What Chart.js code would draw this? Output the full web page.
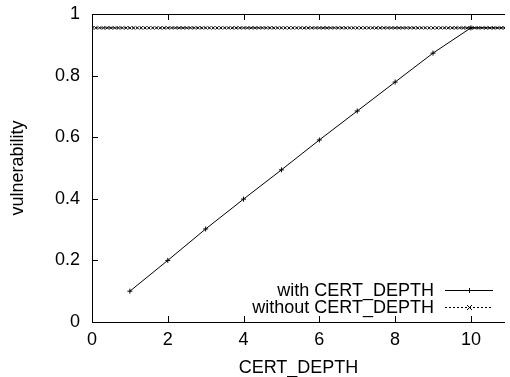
<!DOCTYPE html>
<html>
<head>
<meta charset="utf-8">
<script src="https://cdn.jsdelivr.net/npm/chart.js@4"></script>
<style>
  html, body { margin: 0; padding: 0; background: #fff; }
</style>
</head>
<body>
<canvas id="vulnChart" width="510" height="377"></canvas>
<script>
// data
const withDepthX = [1, 2, 3, 4, 5, 6, 7, 8, 9, 10, 11];
const withDepthY = [0.1, 0.2, 0.302, 0.399, 0.494, 0.591, 0.685, 0.779, 0.873, 0.955, 0.955];

const withoutDepthX = [
    0, 0.1, 0.2, 0.3, 0.4, 0.5, 0.6, 0.7, 0.8, 0.9,
    1, 1.1, 1.2, 1.3, 1.4, 1.5, 1.6, 1.7, 1.8, 1.9,
    2, 2.1, 2.2, 2.3, 2.4, 2.5, 2.6, 2.7, 2.8, 2.9,
    3, 3.1, 3.2, 3.3, 3.4, 3.5, 3.6, 3.7, 3.8, 3.9,
    4, 4.1, 4.2, 4.3, 4.4, 4.5, 4.6, 4.7, 4.8, 4.9,
    5, 5.1, 5.2, 5.3, 5.4, 5.5, 5.6, 5.7, 5.8, 5.9,
    6, 6.1, 6.2, 6.3, 6.4, 6.5, 6.6, 6.7, 6.8, 6.9,
    7, 7.1, 7.2, 7.3, 7.4, 7.5, 7.6, 7.7, 7.8, 7.9,
    8, 8.1, 8.2, 8.3, 8.4, 8.5, 8.6, 8.7, 8.8, 8.9,
    9, 9.1, 9.2, 9.3, 9.4, 9.5, 9.6, 9.7, 9.8, 9.9,
    10, 10.1, 10.2, 10.3, 10.4, 10.5, 10.6, 10.7, 10.8, 10.9, 11
];
const withoutDepthValue = 0.955;

const xTicks = [0, 2, 4, 6, 8, 10];
const yTicks = [0, 0.2, 0.4, 0.6, 0.8, 1];
const seriesNames = ['with CERT_DEPTH', 'without CERT_DEPTH'];

const FONT = 'Liberation Sans, Arial, Helvetica, sans-serif';
const FSIZE = 18;

// gnuplot style frame: left / bottom / top lines, inward ticks, legend at bottom right
const gnuFrame = {
    id: 'gnuFrame',
    afterDatasetsDraw(chart) {
        const c = chart.ctx;
        const a = chart.chartArea;
        const xs = chart.scales.x;
        const ys = chart.scales.y;
        c.save();
        c.strokeStyle = '#000';
        c.lineWidth = 1;
        c.beginPath();
        c.moveTo(a.right, a.top + 0.5);
        c.lineTo(a.left + 0.5, a.top + 0.5);
        c.lineTo(a.left + 0.5, a.bottom + 0.5);
        c.lineTo(a.right, a.bottom + 0.5);
        xTicks.forEach(v => {
            const px = Math.round(xs.getPixelForValue(v)) + 0.5;
            c.moveTo(px, a.bottom);
            c.lineTo(px, a.bottom - 6);
            c.moveTo(px, a.top);
            c.lineTo(px, a.top + 6);
        });
        yTicks.forEach(v => {
            const py = Math.round(ys.getPixelForValue(v)) + 0.5;
            c.moveTo(a.left, py);
            c.lineTo(a.left + 6, py);
        });
        c.stroke();

        // legend
        c.font = FSIZE + 'px ' + FONT;
        c.fillStyle = '#000';
        c.textAlign = 'right';
        c.textBaseline = 'middle';
        const rows = [290, 307];
        chart.data.datasets.forEach((ds, i) => {
            const y = rows[i] + 0.5;
            c.fillText(seriesNames[i], 434, rows[i] + 1);
            c.setLineDash(ds.borderDash || []);
            c.beginPath();
            c.moveTo(445, y);
            c.lineTo(493, y);
            c.stroke();
            c.setLineDash([]);
            c.beginPath();
            if (ds.pointStyle === 'cross') {
                c.moveTo(469.5, y - 2.5); c.lineTo(469.5, y + 2.5);
                c.moveTo(467, y); c.lineTo(472, y);
            } else {
                c.moveTo(467, y - 2.5); c.lineTo(472, y + 2.5);
                c.moveTo(467, y + 2.5); c.lineTo(472, y - 2.5);
            }
            c.stroke();
        });
        c.restore();
    }
};

const ctx = document.getElementById('vulnChart').getContext('2d');

const vulnChart = new Chart(ctx, {
    type: 'scatter',
    data: {
        datasets: [{
            label: seriesNames[0],
            data: withDepthX.map((x, i) => ({ x: x, y: withDepthY[i] })),
            showLine: true,
            borderColor: '#000',
            borderWidth: 1,
            pointStyle: 'cross',
            pointRadius: 2.5,
            pointBorderColor: '#000',
            pointBorderWidth: 1,
            tension: 0
        }, {
            label: seriesNames[1],
            data: withoutDepthX.map(x => ({ x: x, y: withoutDepthValue })),
            showLine: true,
            borderColor: '#000',
            borderWidth: 1,
            borderDash: [2, 2],
            pointStyle: 'crossRot',
            pointRadius: 2.2,
            pointBorderColor: '#000',
            pointBorderWidth: 1,
            tension: 0
        }]
    },
    options: {
        responsive: false,
        animation: false,
        layout: { padding: { top: 14, right: 0, left: 0, bottom: 0 } },
        plugins: {
            legend: { display: false },
            tooltip: { enabled: false }
        },
        scales: {
            x: {
                type: 'linear',
                min: 0,
                max: 10.9,
                afterBuildTicks: s => { s.ticks = xTicks.map(v => ({ value: v })); },
                afterFit: s => { s.height = 55; s.paddingLeft = 0; s.paddingRight = 0; },
                grid: { display: false, drawTicks: false },
                border: { display: false },
                ticks: {
                    color: '#000',
                    font: { family: FONT, size: FSIZE },
                    padding: 7,
                    maxRotation: 0
                },
                title: {
                    display: true,
                    text: 'CERT_DEPTH',
                    color: '#000',
                    font: { family: FONT, size: FSIZE },
                    padding: { top: 0, bottom: -2 }
                }
            },
            y: {
                type: 'linear',
                min: 0,
                max: 1,
                afterBuildTicks: s => { s.ticks = yTicks.map(v => ({ value: v })); },
                afterFit: s => { s.width = 92; s.paddingTop = 0; s.paddingBottom = 0; },
                grid: { display: false, drawTicks: false },
                border: { display: false },
                ticks: {
                    color: '#000',
                    font: { family: FONT, size: FSIZE },
                    padding: 12,
                    callback: v => String(v)
                },
                title: {
                    display: true,
                    text: 'vulnerability',
                    color: '#000',
                    font: { family: FONT, size: FSIZE },
                    padding: { top: 7, bottom: 0 }
                }
            }
        }
    },
    plugins: [gnuFrame]
});
</script>
</body>
</html>
